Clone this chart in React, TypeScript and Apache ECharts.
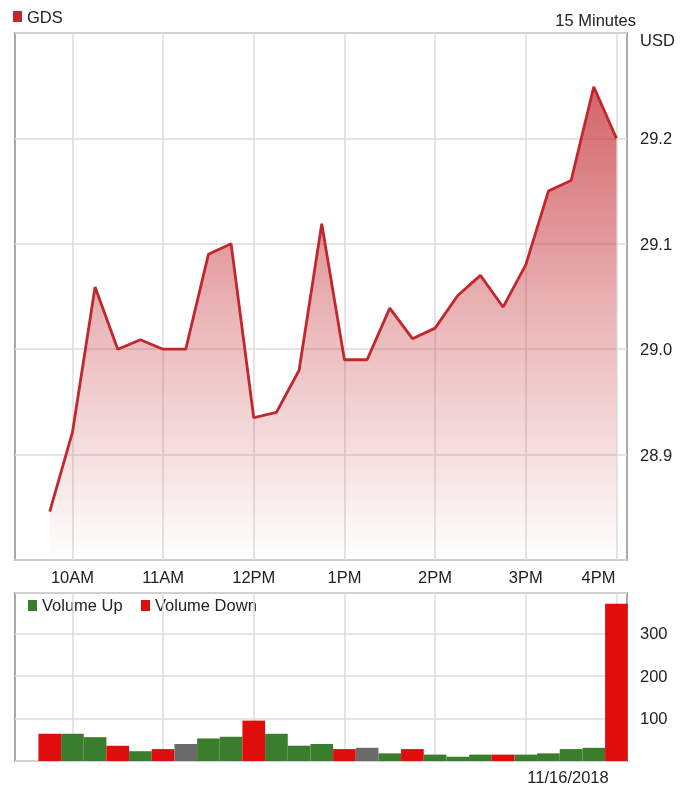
import React, { useEffect, useRef } from 'react';
import * as echarts from 'echarts';

// 15-minute bars, 11/16/2018
const times = ['09:45', '10:00', '10:15', '10:30', '10:45', '11:00', '11:15', '11:30', '11:45', '12:00', '12:15', '12:30', '12:45',
  '13:00', '13:15', '13:30', '13:45', '14:00', '14:15', '14:30', '14:45', '15:00', '15:15', '15:30', '15:45', '16:00'];
const prices = [28.846, 28.921, 29.059, 29.0, 29.009, 29.0, 29.0, 29.09, 29.1, 28.935, 28.94, 28.98, 29.119,
  28.99, 28.99, 29.039, 29.01, 29.02, 29.051, 29.07, 29.04, 29.08, 29.15, 29.16, 29.249, 29.2];
const volumes = [64, 64, 56, 36, 23, 28, 40, 53, 57, 95, 64, 36, 40,
  28, 31, 18, 28, 15, 10, 15, 15, 15, 18, 28, 31, 370];
const directions = ['down', 'up', 'up', 'down', 'up', 'down', 'flat', 'up', 'up', 'down', 'up', 'up', 'up',
  'down', 'flat', 'up', 'down', 'up', 'up', 'up', 'down', 'up', 'up', 'up', 'up', 'down'];
const tickTimes = ['10:00', '11:00', '12:00', '13:00', '14:00', '15:00', '16:00'];
const tickLabels = ['10AM', '11AM', '12PM', '1PM', '2PM', '3PM', '4PM'];
const axisStart = '09:22';
const axisEnd = '16:07';
const priceMin = 28.8;
const priceMax = 29.3;
const priceStep = 0.1;
const volumeMax = 395;
const volumeStep = 100;
const symbol = 'GDS';
const period = '15 Minutes';
const currency = 'USD';
const dateLabel = '11/16/2018';

const toMin = (t: string) => {
  const [h, m] = t.split(':').map(Number);
  return h * 60 + m;
};

const FONT = '"Liberation Sans", Arial, sans-serif';
const FS = 16.5;
const TXT = '#222';
const LINE = '#c1272d';
const UP = '#3a7d2c';
const DOWN = '#e00d0d';
const FLAT = '#6a6a6a';
const GRID = '#dddddd';
const BORDER = '#aaaaaa';

const G_LEFT = 15;
const G_WIDTH = 612;

export default function App() {
  const ref = useRef<HTMLDivElement>(null);
  useEffect(() => {
    if (!ref.current) return;
    const chart = echarts.init(ref.current, undefined, { renderer: 'svg' });
    const xMin = toMin(axisStart);
    const xMax = toMin(axisEnd);
    const tickVals = tickTimes.map(toMin);
    const labelOf = (v: number) => {
      const i = tickVals.indexOf(v);
      if (i < 0) return '';
      return i === tickVals.length - 1 ? `{r|${tickLabels[i]}}` : tickLabels[i];
    };
    const barW = (G_WIDTH / (xMax - xMin)) * 15;
    const colorOf = (d: string) => (d === 'up' ? UP : d === 'down' ? DOWN : FLAT);

    const xAxisBase = (gridIndex: number, showLabel: boolean) => ({
      type: 'value',
      gridIndex,
      min: xMin,
      max: xMax,
      axisLine: { show: false },
      axisTick: { show: false, customValues: tickVals },
      axisLabel: {
        show: showLabel,
        customValues: tickVals,
        formatter: labelOf,
        color: TXT,
        fontFamily: FONT,
        fontSize: FS,
        margin: 8,
        rich: { r: { padding: [0, 36, 0, 0], color: TXT, fontFamily: FONT, fontSize: FS } },
      },
      splitLine: { show: true, lineStyle: { color: GRID, width: 1.5 } },
    });

    chart.setOption({
      animation: false,
      textStyle: { fontFamily: FONT },
      grid: [
        { left: G_LEFT, top: 33, width: G_WIDTH, height: 527, show: true, borderColor: BORDER, borderWidth: 2, backgroundColor: 'transparent' },
        { left: G_LEFT, top: 593, width: G_WIDTH, height: 168, show: true, borderColor: BORDER, borderWidth: 2, backgroundColor: 'transparent' },
      ],
      xAxis: [xAxisBase(0, true), xAxisBase(1, false)],
      yAxis: [
        {
          type: 'value', gridIndex: 0, position: 'right', min: priceMin, max: priceMax, interval: priceStep,
          axisLine: { show: false }, axisTick: { show: false },
          axisLabel: { color: TXT, fontFamily: FONT, fontSize: FS, margin: 13, showMinLabel: false, showMaxLabel: false, formatter: (v: number) => v.toFixed(1) },
          splitLine: { show: true, lineStyle: { color: GRID, width: 1.5 } },
        },
        {
          type: 'value', gridIndex: 1, position: 'right', min: 0, max: volumeMax, interval: volumeStep,
          axisLine: { show: false }, axisTick: { show: false },
          axisLabel: { color: TXT, fontFamily: FONT, fontSize: FS, margin: 13, showMinLabel: false, showMaxLabel: false },
          splitLine: { show: true, lineStyle: { color: GRID, width: 1.5 } },
        },
      ],
      series: [
        {
          name: symbol,
          type: 'line',
          xAxisIndex: 0,
          yAxisIndex: 0,
          data: times.map((t, i) => [toMin(t), prices[i]]),
          symbol: 'none',
          lineStyle: { color: LINE, width: 2.8 },
          itemStyle: { color: LINE },
          areaStyle: {
            origin: 'start',
            opacity: 1,
            color: new echarts.graphic.LinearGradient(0, 0, 0, 1, [
              { offset: 0, color: 'rgba(193,39,45,0.72)' },
              { offset: 0.5, color: 'rgba(193,39,45,0.33)' },
              { offset: 1, color: 'rgba(193,39,45,0.0)' },
            ]),
          },
          z: 3,
        },
        {
          name: 'Volume',
          type: 'bar',
          xAxisIndex: 1,
          yAxisIndex: 1,
          barWidth: barW,
          data: times.map((t, i) => ({ value: [toMin(t), volumes[i]], itemStyle: { color: colorOf(directions[i]) } })),
          z: 3,
        },
      ],
      graphic: [
        { type: 'rect', shape: { x: 13, y: 11, width: 9, height: 11 }, style: { fill: LINE } },
        { type: 'text', x: 27, y: 17, style: { text: symbol, fill: TXT, font: `${FS}px ${FONT}`, textVerticalAlign: 'middle' } },
        { type: 'text', x: 636, y: 20, style: { text: period, fill: TXT, font: `${FS}px ${FONT}`, textAlign: 'right', textVerticalAlign: 'middle' } },
        { type: 'text', x: 640, y: 40, style: { text: currency, fill: TXT, font: `${FS}px ${FONT}`, textVerticalAlign: 'middle' } },
        { type: 'rect', shape: { x: 28, y: 600, width: 9, height: 11 }, style: { fill: UP } },
        { type: 'text', x: 42, y: 605, style: { text: 'Volume Up', fill: TXT, font: `${FS}px ${FONT}`, textVerticalAlign: 'middle' } },
        { type: 'rect', shape: { x: 141, y: 600, width: 9, height: 11 }, style: { fill: DOWN } },
        { type: 'text', x: 155, y: 605, style: { text: 'Volume Down', fill: TXT, font: `${FS}px ${FONT}`, textVerticalAlign: 'middle' } },
        { type: 'text', x: 568, y: 777, style: { text: dateLabel, fill: TXT, font: `${FS}px ${FONT}`, textAlign: 'center', textVerticalAlign: 'middle' } },
      ],
    });
    return () => chart.dispose();
  }, []);
  return <div ref={ref} style={{ position: 'fixed', left: 0, top: 0, width: 693, height: 786 }} />;
}
